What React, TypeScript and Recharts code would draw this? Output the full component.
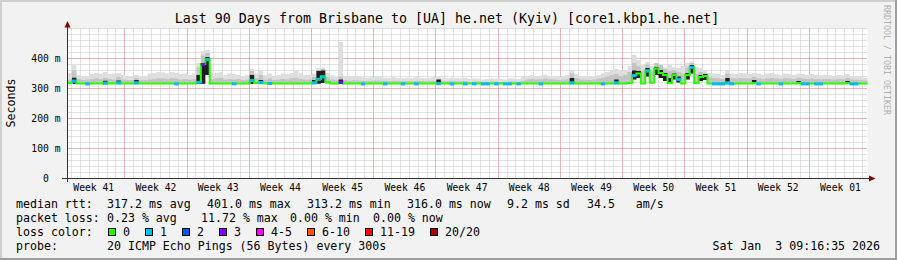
import { ComposedChart, Area, Line, XAxis, YAxis, CartesianGrid } from "recharts";

// half-day samples, 90 days
const MEDIAN = [
  318, 326, 317, 317, 317, 317, 317, 317, 319, 317, 317, 320, 317, 317, 317,
  320, 317, 317, 317, 317, 317, 317, 317, 317, 317, 317, 317, 317, 317, 322,
  382, 398, 317, 317, 317, 317, 317, 317, 317, 317, 317, 328, 318, 322, 317,
  318, 317, 317, 317, 317, 317, 317, 317, 317, 317, 320, 332, 340, 322, 317,
  317, 322, 317, 317, 317, 317, 317, 317, 317, 317, 317, 317, 317, 317, 317,
  317, 317, 317, 317, 317, 317, 317, 317, 318, 317, 317, 317, 317, 317, 317,
  317, 317, 317, 317, 317, 317, 317, 317, 317, 317, 317, 317, 317, 317, 317,
  317, 317, 317, 317, 317, 317, 317, 317, 320, 317, 317, 317, 317, 317, 317,
  317, 317, 317, 320, 317, 317, 318, 345, 350, 317, 360, 320, 367, 352, 345,
  318, 345, 332, 317, 345, 372, 318, 338, 342, 317, 317, 317, 317, 320, 317,
  317, 317, 317, 317, 318, 317, 317, 317, 317, 317, 317, 317, 317, 317, 318,
  317, 317, 317, 317, 317, 317, 317, 317, 317, 317, 318, 317, 317, 317, 317,
];

// loss category index per sample (0 = no loss)
const LOSS = [
  0, 1, 0, 0, 1, 0, 0, 0, 1, 0, 0, 1, 0, 0, 0,
  1, 0, 0, 0, 0, 0, 0, 0, 0, 1, 0, 0, 0, 0, 1,
  3, 1, 0, 0, 0, 0, 0, 1, 0, 0, 0, 1, 0, 1, 0,
  1, 0, 0, 0, 0, 0, 0, 0, 0, 0, 1, 1, 1, 0, 0,
  0, 3, 0, 0, 0, 0, 1, 0, 0, 0, 0, 1, 0, 0, 0,
  1, 0, 0, 1, 0, 0, 0, 0, 1, 0, 0, 1, 0, 0, 1,
  0, 1, 0, 1, 1, 0, 1, 0, 1, 1, 0, 1, 0, 0, 0,
  0, 1, 0, 0, 0, 0, 0, 0, 1, 0, 0, 0, 0, 0, 0,
  1, 0, 0, 1, 0, 0, 0, 1, 0, 0, 1, 0, 0, 0, 0,
  0, 0, 1, 0, 0, 1, 0, 0, 0, 0, 1, 1, 1, 1, 1,
  0, 0, 0, 0, 0, 1, 0, 0, 0, 0, 1, 0, 0, 0, 0,
  1, 1, 0, 1, 1, 0, 0, 0, 0, 0, 0, 1, 1, 0, 0,
];

// smoke: lower edge, then light / mid / dark upper edges (ms)
const SMOKE_LO = [
  315, 315, 315, 315, 315, 315, 315, 315, 315, 315, 315, 315, 315, 315, 315,
  315, 315, 315, 315, 315, 315, 315, 315, 315, 315, 315, 315, 315, 315, 315,
  316, 345, 315, 315, 315, 315, 315, 315, 315, 315, 315, 315, 315, 315, 315,
  315, 315, 315, 315, 315, 315, 315, 315, 315, 315, 315, 316, 318, 315, 315,
  315, 315, 315, 315, 315, 315, 315, 315, 315, 315, 315, 315, 315, 315, 315,
  315, 315, 315, 315, 315, 315, 315, 315, 315, 315, 315, 315, 315, 315, 315,
  315, 315, 315, 315, 315, 315, 315, 315, 315, 315, 315, 315, 315, 315, 315,
  315, 315, 315, 315, 315, 315, 315, 315, 315, 315, 315, 315, 315, 315, 315,
  315, 315, 315, 315, 315, 315, 315, 330, 335, 315, 340, 315, 345, 335, 325,
  315, 330, 320, 315, 330, 350, 315, 325, 328, 315, 315, 315, 315, 315, 315,
  315, 315, 315, 315, 315, 315, 315, 315, 315, 315, 315, 315, 315, 315, 315,
  315, 315, 315, 315, 315, 315, 315, 315, 315, 315, 315, 315, 315, 315, 315,
];

const SMOKE_LIGHT = [
  352, 378, 345, 338, 340, 348, 352, 350, 355, 348, 350, 352, 345, 338, 340,
  345, 338, 340, 350, 352, 355, 353, 350, 355, 352, 348, 350, 345, 350, 385,
  425, 428, 350, 352, 355, 345, 350, 348, 345, 340, 345, 365, 350, 358, 345,
  350, 342, 345, 350, 348, 352, 358, 350, 345, 345, 350, 368, 370, 352, 345,
  342, 455, 340, 338, 342, 340, 338, 336, 338, 340, 338, 336, 335, 338, 336,
  334, 336, 335, 338, 336, 334, 336, 338, 340, 336, 334, 336, 335, 334, 336,
  332, 334, 333, 330, 332, 334, 333, 332, 330, 334, 333, 332, 338, 342, 345,
  340, 343, 346, 342, 340, 338, 342, 345, 358, 348, 342, 340, 338, 340, 345,
  350, 355, 362, 365, 358, 362, 375, 412, 395, 380, 388, 375, 385, 382, 370,
  378, 372, 368, 375, 385, 390, 372, 368, 360, 352, 350, 348, 345, 360, 350,
  348, 352, 350, 348, 352, 350, 346, 350, 352, 348, 345, 350, 348, 346, 350,
  348, 345, 348, 346, 344, 346, 344, 342, 345, 343, 348, 342, 340, 338, 336,
];

const SMOKE_MID = [
  330, 360, 332, 328, 330, 332, 334, 332, 335, 332, 330, 338, 330, 328, 328,
  335, 328, 328, 330, 332, 334, 333, 332, 334, 333, 330, 332, 330, 332, 370,
  410, 418, 332, 334, 335, 330, 332, 330, 332, 328, 330, 358, 334, 345, 330,
  334, 328, 330, 332, 330, 334, 336, 332, 330, 330, 338, 362, 365, 338, 330,
  328, 340, 328, 326, 328, 327, 326, 325, 326, 327, 326, 325, 324, 326, 325,
  324, 325, 324, 326, 325, 324, 325, 326, 330, 325, 324, 325, 324, 324, 325,
  322, 323, 323, 322, 322, 323, 323, 322, 322, 323, 323, 322, 326, 330, 332,
  330, 331, 333, 331, 330, 328, 330, 332, 350, 335, 330, 329, 328, 330, 333,
  336, 340, 345, 348, 342, 345, 355, 385, 375, 360, 380, 360, 385, 378, 365,
  358, 362, 355, 350, 370, 385, 350, 355, 352, 338, 335, 334, 332, 350, 334,
  333, 335, 334, 333, 338, 334, 332, 334, 335, 333, 332, 334, 333, 332, 336,
  333, 332, 333, 332, 331, 332, 331, 330, 332, 331, 335, 330, 329, 328, 327,
];

const SMOKE_DARK = [
  315, 336, 315, 315, 315, 315, 315, 315, 326, 315, 315, 327, 315, 315, 315,
  328, 315, 315, 315, 315, 315, 315, 315, 315, 315, 315, 315, 315, 315, 345,
  385, 405, 315, 315, 315, 315, 315, 315, 315, 315, 315, 345, 315, 328, 315,
  315, 315, 315, 315, 315, 315, 315, 315, 315, 315, 328, 358, 360, 315, 315,
  315, 330, 315, 315, 315, 315, 315, 315, 315, 315, 315, 315, 315, 315, 315,
  315, 315, 315, 315, 315, 315, 315, 315, 330, 315, 315, 315, 315, 315, 315,
  315, 315, 315, 315, 315, 315, 315, 315, 315, 315, 315, 315, 315, 315, 315,
  315, 315, 315, 315, 315, 315, 315, 315, 335, 315, 315, 315, 315, 315, 315,
  315, 315, 315, 330, 315, 315, 315, 360, 358, 315, 368, 315, 372, 362, 352,
  335, 350, 340, 315, 352, 378, 315, 345, 348, 315, 315, 315, 315, 335, 315,
  315, 315, 315, 315, 328, 315, 315, 315, 315, 315, 315, 315, 315, 315, 325,
  315, 315, 315, 315, 315, 315, 315, 315, 315, 315, 325, 315, 315, 315, 315,
];

const WEEK_LABELS = [
  "Week 41", "Week 42", "Week 43", "Week 44", "Week 45", "Week 46", "Week 47",
  "Week 48", "Week 49", "Week 50", "Week 51", "Week 52", "Week 01",
];
const Y_TICKS = [0, 100, 200, 300, 400];

const LOSS_LABELS = ["0", "1", "2", "3", "4-5", "6-10", "11-19", "20/20"];
const LOSS_COLORS = ["#26ff00", "#00b8ff", "#0059ff", "#7e00ff", "#ff00ff", "#ff5500", "#ff0000", "#a10000"];

const TITLE = "Last 90 Days from Brisbane to [UA] he.net (Kyiv) [core1.kbp1.he.net]";
const RTT_STATS = ["317.2 ms avg", "401.0 ms max", "313.2 ms min", "316.0 ms now", "9.2 ms sd", "34.5   am/s"];
const LOSS_STATS = ["0.23 % avg", "11.72 % max", "0.00 % min", "0.00 % now"];
const PROBE = "20 ICMP Echo Pings (56 Bytes) every 300s";
const STAMP = "Sat Jan  3 09:16:35 2026";

const DAYS = 90;
const STEP_DAYS = 0.5;
const Y_MAX = 500;
const FIRST_MIDNIGHT = 0.45; // day offset of first day boundary
const FIRST_WEEK = 6.45; // day offset of first week boundary

const W = 897;
const H = 260;
const LEFT = 67.5;
const TOP = 28.5;
const PLOT_W = 800;
const PLOT_H = 150;
const Y_AXIS_W = 60;
const X_AXIS_H = 30;
const STEP_PX = PLOT_W / (DAYS / STEP_DAYS);

const MONO = "'DejaVu Sans Mono', monospace";

const rows: any[] = MEDIAN.map((m, i) => ({
  day: i * STEP_DAYS,
  med: m,
  loss: LOSS[i],
  light: [SMOKE_LO[i], SMOKE_LIGHT[i]],
  mid: [SMOKE_LO[i], SMOKE_MID[i]],
  dark: [SMOKE_LO[i], SMOKE_DARK[i]],
}));
// close the last step at the right edge
rows.push({ ...rows[rows.length - 1], day: DAYS, loss: 0 });

const weekStarts = Array.from({ length: 12 }, (_, k) => FIRST_WEEK + k * 7);
const dayLines = Array.from({ length: DAYS }, (_, k) => FIRST_MIDNIGHT + k);
const weekMid = WEEK_LABELS.map((_, k) => FIRST_WEEK - 3.5 + k * 7);
const minorY = Array.from({ length: Y_MAX / 20 }, (_, k) => (k + 1) * 20);
const majorY = Y_TICKS.filter((v) => v > 0);

// grid positions: axis scale when the grid hands it over, else the plot box
const genX = (vals: number[]) => (args: any) => {
  const s = args?.xAxis?.scale;
  const o = args?.offset;
  return vals.map((v) => {
    const px = typeof s === "function" ? s(v) : o.left + (v / DAYS) * o.width;
    return Math.floor(px) + 0.5;
  });
};
const genY = (vals: number[]) => (args: any) => {
  const s = args?.yAxis?.scale;
  const o = args?.offset;
  return vals.map((v) => {
    const px = typeof s === "function" ? s(v) : o.top + (1 - v / Y_MAX) * o.height;
    return Math.floor(px) + 0.5;
  });
};

function LossMark(props: any) {
  const { cx, cy, payload, index } = props;
  if (!payload || !payload.loss || cx == null || cy == null) return <g key={`l${index}`} />;
  return (
    <rect
      key={`l${index}`}
      x={cx}
      y={cy - 1}
      width={STEP_PX}
      height={3}
      fill={LOSS_COLORS[payload.loss]}
    />
  );
}

const yFmt = (v: number) => (v === 0 ? "0\u00a0\u00a0" : `${v} m`);
const weekFmt = (v: number) => WEEK_LABELS[Math.round((v - weekMid[0]) / 7)] ?? "";

export default function App() {
  // loss legend positions follow the label widths (monospace, 7px per char)
  let sx = 108.5;
  const swatches = LOSS_LABELS.map((lab, k) => {
    const x = sx;
    sx += 14.5 + lab.length * 7 + 15.5;
    return { lab, x, color: LOSS_COLORS[k] };
  });

  return (
    <div style={{ position: "absolute", left: 0, top: 0, width: W, height: H, background: "#f2f2f2" }}>
      <div style={{ position: "absolute", left: 0, top: 0 }}>
        <ComposedChart
          width={W}
          height={H}
          data={rows}
          margin={{ top: TOP, left: LEFT - Y_AXIS_W, right: W - LEFT - PLOT_W, bottom: H - TOP - PLOT_H - X_AXIS_H }}
        >
          <XAxis xAxisId="t" dataKey="day" type="number" domain={[0, DAYS]} ticks={weekMid} interval={0}
            tickFormatter={weekFmt} axisLine={false} tickLine={false} tickSize={0} tickMargin={6} height={X_AXIS_H}
            tick={{ fontFamily: MONO, fontSize: 9.7, fill: "#000" }} />
          <YAxis yAxisId="v" type="number" domain={[0, Y_MAX]} ticks={Y_TICKS} interval={0} tickFormatter={yFmt}
            axisLine={false} tickLine={false} tickSize={0} tickMargin={7} width={Y_AXIS_W}
            tick={{ fontFamily: MONO, fontSize: 9.7, fill: "#000" }} />
          <CartesianGrid xAxisId="t" yAxisId="v" stroke="#c4c4c4" strokeDasharray="1 1" fill="#ffffff" fillOpacity={1}
            verticalCoordinatesGenerator={genX(dayLines)}
            horizontalCoordinatesGenerator={genY(minorY)} />
          <CartesianGrid xAxisId="t" yAxisId="v" stroke="#ee8a8a" strokeDasharray="1 1"
            verticalCoordinatesGenerator={genX(weekStarts)}
            horizontalCoordinatesGenerator={genY(majorY)} />
          <Area xAxisId="t" yAxisId="v" type="stepAfter" dataKey="light" stroke="none" fill="#dedede" fillOpacity={1} isAnimationActive={false} />
          <Area xAxisId="t" yAxisId="v" type="stepAfter" dataKey="mid" stroke="none" fill="#c4c4c4" fillOpacity={1} isAnimationActive={false} />
          <Area xAxisId="t" yAxisId="v" type="stepAfter" dataKey="dark" stroke="none" fill="#1e1e1e" fillOpacity={1} isAnimationActive={false} />
          <Line xAxisId="t" yAxisId="v" type="stepAfter" dataKey="med" stroke="#26ff00" strokeWidth={2} dot={false} activeDot={false} isAnimationActive={false} />
          <Line xAxisId="t" yAxisId="v" type="stepAfter" dataKey="med" stroke="none" dot={LossMark} activeDot={false} isAnimationActive={false} />
        </ComposedChart>
      </div>
      <svg width={W} height={H} style={{ position: "absolute", left: 0, top: 0, pointerEvents: "none" }}>
        {/* 3d frame */}
        <rect x={0} y={0} width={W} height={2} fill="#cfcfcf" />
        <rect x={0} y={0} width={2} height={H} fill="#cfcfcf" />
        <rect x={0} y={H - 2} width={W} height={2} fill="#9e9e9e" />
        <rect x={W - 2} y={0} width={2} height={H} fill="#9e9e9e" />

        {/* axes */}
        <line x1={62} y1={178.5} x2={870} y2={178.5} stroke="#333" strokeWidth={1} />
        <line x1={67.5} y1={182} x2={67.5} y2={26} stroke="#333" strokeWidth={1} />
        <polygon points="67.5,21 64.5,27.5 70.5,27.5" fill="#7f0000" />
        <polygon points="875.5,178.5 869,175.5 869,181.5" fill="#7f0000" />

        <text x={447} y={23} textAnchor="middle" fontFamily={MONO} fontSize={13.3} fill="#000">{TITLE}</text>
        <text transform="translate(15,103) rotate(-90)" textAnchor="middle" fontFamily={MONO} fontSize={11.6} fill="#000">Seconds</text>
        <text transform="translate(884,5) rotate(90)" fontFamily={MONO} fontSize={8.3} fill="#b0b0b0">RRDTOOL / TOBI OETIKER</text>

        <g fontFamily={MONO} fontSize={11.6} fill="#000" style={{ whiteSpace: "pre" }}>
          <text x={16} y={208}>median rtt:</text>
          {RTT_STATS.map((s, k) => (
            <text key={s} x={[107, 207, 307, 407, 507, 587][k]} y={208} xmlSpace="preserve">{s}</text>
          ))}
          <text x={16} y={222}>packet loss:</text>
          {LOSS_STATS.map((s, k) => (
            <text key={s} x={[107, 201, 290, 373][k]} y={222}>{s}</text>
          ))}
          <text x={16} y={236}>loss color:</text>
          {swatches.map((s) => (
            <g key={s.lab}>
              <rect x={s.x} y={228.5} width={7} height={7} fill={s.color} stroke="#000" strokeWidth={1} />
              <text x={s.x + 14.5} y={236}>{s.lab}</text>
            </g>
          ))}
          <text x={16} y={250}>probe:</text>
          <text x={107} y={250}>{PROBE}</text>
          <text x={880} y={250} textAnchor="end" xmlSpace="preserve">{STAMP}</text>
        </g>
      </svg>
    </div>
  );
}
